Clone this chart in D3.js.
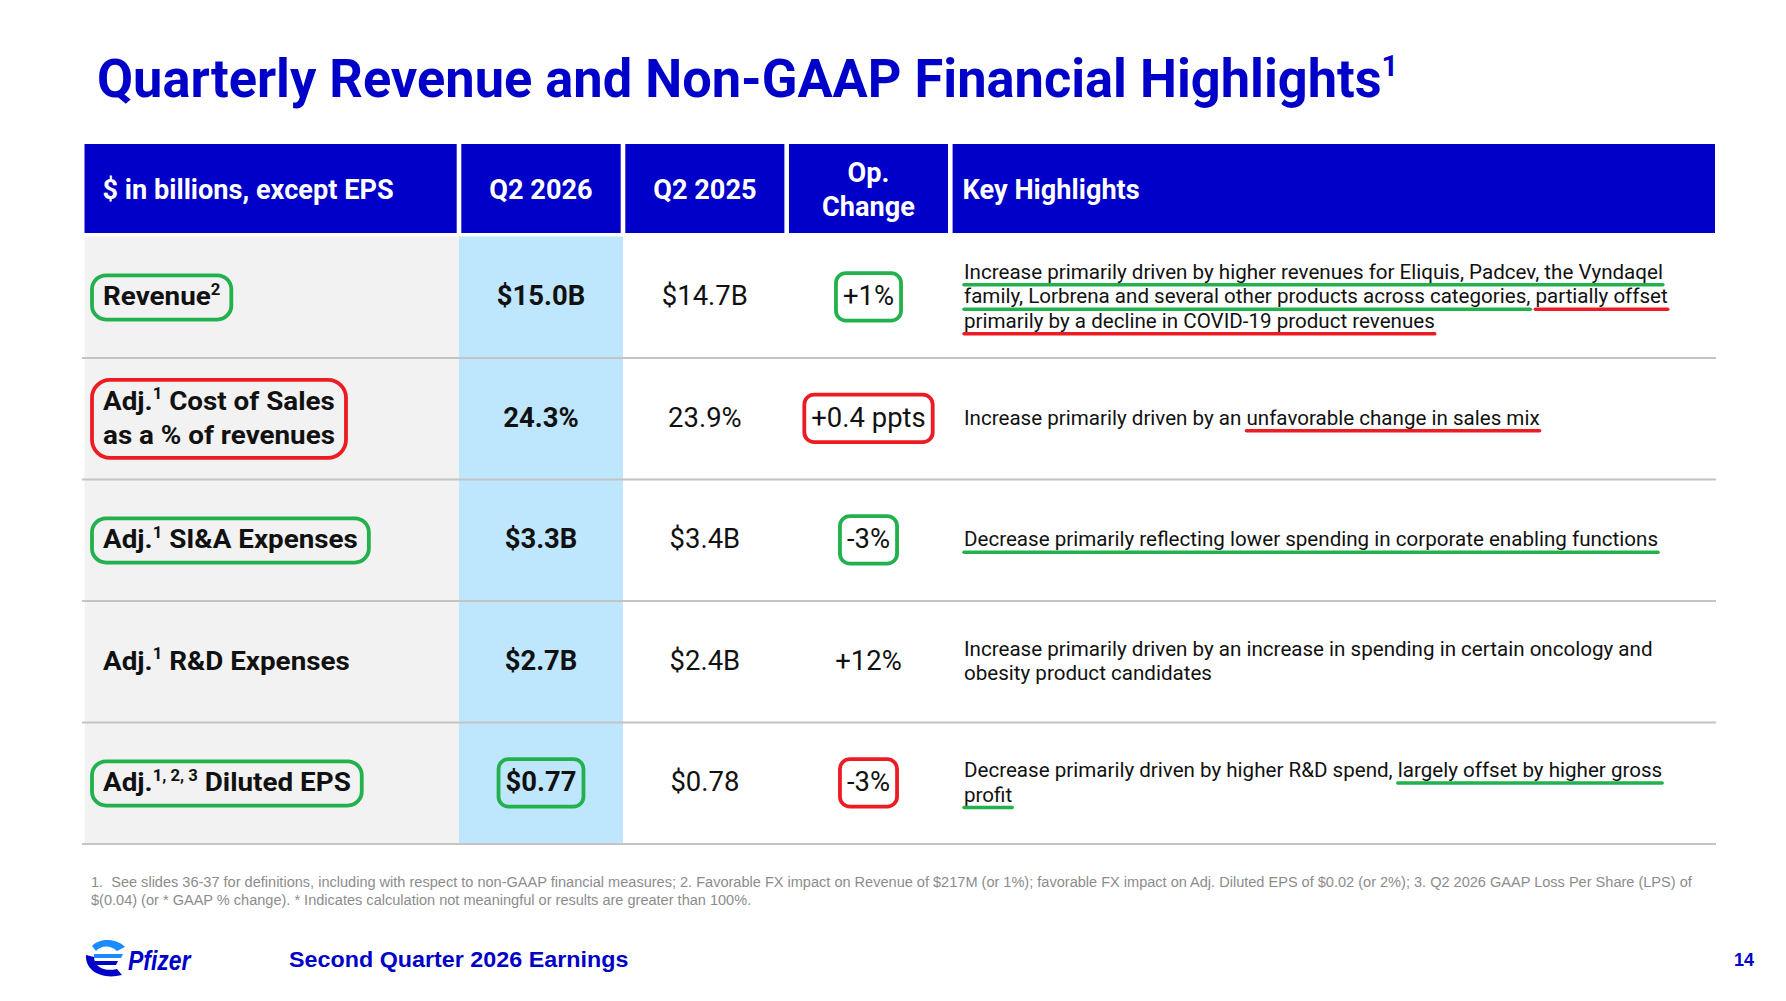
<!DOCTYPE html>
<html lang="en">
<head>
<meta charset="UTF-8">
<title>Quarterly Revenue and Non-GAAP Financial Highlights</title>
<script src="https://d3js.org/d3.v7.min.js"></script>
<style>
body { margin: 0; background: #fff; }
svg { display: block; }
text { white-space: pre; }
</style>
</head>
<body>
<svg id="chart" width="1786" height="1001"></svg>
<script>
// ---- data ----
const title = "Quarterly Revenue and Non-GAAP Financial Highlights^1";
const headers = ["$ in billions, except EPS", "Q2 2026", "Q2 2025", "Op.|Change", "Key Highlights"];
// "^" marks a superscript, "|" a line break
const metrics = [
    "Revenue^2",
    "Adj.^1 Cost of Sales|as a % of revenues",
    "Adj.^1 SI&A Expenses",
    "Adj.^1 R&D Expenses",
    "Adj.^1, 2, 3 Diluted EPS"
];
const q2_2026 = ["$15.0B", "24.3%", "$3.3B", "$2.7B", "$0.77"];
const q2_2025 = ["$14.7B", "23.9%", "$3.4B", "$2.4B", "$0.78"];
const opChange = ["+1%", "+0.4 ppts", "-3%", "+12%", "-3%"];
// [g:...] green underline, [r:...] red underline
const highlights = [
    "[g:Increase primarily driven by higher revenues for Eliquis, Padcev, the Vyndaqel]|[g:family, Lorbrena and several other products across categories,] [r:partially offset]|[r:primarily by a decline in COVID-19 product revenues]",
    "Increase primarily driven by an [r:unfavorable change in sales mix]",
    "[g:Decrease primarily reflecting lower spending in corporate enabling functions]",
    "Increase primarily driven by an increase in spending in certain oncology and|obesity product candidates",
    "Decrease primarily driven by higher R&D spend, [g:largely offset by higher gross]|[g:profit]"
];
// hand-drawn rings: g = green, r = red
const ringMetric = ["g", "r", "g", null, "g"];
const ringCurrent = [null, null, null, null, "g"];
const ringChange = ["g", "r", "g", null, "r"];
const footnotes = [
    "1.  See slides 36-37 for definitions, including with respect to non-GAAP financial measures; 2. Favorable FX impact on Revenue of $217M (or 1%); favorable FX impact on Adj. Diluted EPS of $0.02 (or 2%); 3. Q2 2026 GAAP Loss Per Share (LPS) of",
    "$(0.04) (or * GAAP % change). * Indicates calculation not meaningful or results are greater than 100%."
];
const footerText = "Second Quarter 2026 Earnings";
const pageNo = "14";

// ---- look ----
const BLUE = "#0000c8", GREEN = "#22b14c", RED = "#ed1c24", INK = "#111";
const FONT = "Roboto, 'Liberation Sans', Arial, sans-serif";
const ARIAL = "'Liberation Sans', Arial, sans-serif";
const ringColor = { g: GREEN, r: RED };

const svg = d3.select("#chart");
const colEdges = [84.5, 459, 623, 786.7, 950.3, 1715];
const headTop = 144, headBottom = 233;
const y = d3.scaleBand().domain(d3.range(metrics.length)).range([236.5, 844]);
const colMid = i => (colEdges[i] + colEdges[i + 1]) / 2;

// text squeezed/stretched horizontally to mimic the face used on the slide
function putText(parent, x, yy, str, o) {
    const wrap = parent.append("g");
    const inner = wrap.append("g")
        .attr("transform", `translate(${x},${yy}) scale(${o.sx || 1},1)`);
    const t = inner.append("text")
        .attr("font-family", o.family || FONT)
        .attr("font-size", o.size)
        .attr("font-weight", o.weight || 400)
        .attr("font-style", o.style || null)
        .attr("fill", o.fill || INK)
        .attr("text-anchor", o.anchor || "start");
    str.split(/(\^[\d, ]*\d)/).forEach(part => {
        if (!part) return;
        if (part[0] === "^") {
            t.append("tspan")
                .attr("font-size", o.size * (o.supScale || 0.6))
                .attr("baseline-shift", o.size * 0.4)
                .text(part.slice(1));
        } else {
            t.append("tspan").text(part);
        }
    });
    return wrap;
}

function ring(parent, x0, y0, x1, y1, color, rx) {
    parent.append("rect")
        .attr("x", x0).attr("y", y0)
        .attr("width", x1 - x0).attr("height", y1 - y0)
        .attr("rx", rx).attr("ry", rx)
        .attr("fill", "none")
        .attr("stroke", ringColor[color])
        .attr("stroke-width", 3.8);
}

function ringAround(parent, wrap, color, base, size, lines, padX, rx) {
    const b = wrap.node().getBBox();
    ring(parent, b.x - padX, base - size * 1.15, b.x + b.width + padX,
        base + (lines - 1) * size * 1.3 + size * 0.55, color, rx);
}

// ---- title ----
putText(svg, 97, 97, title, { size: 54, weight: 700, fill: BLUE, sx: 0.97, supScale: 0.55 });

// ---- header ----
const head = svg.append("g");
headers.forEach((h, i) => {
    const x0 = colEdges[i] + (i ? 2.3 : 0);
    const x1 = colEdges[i + 1] - (i < headers.length - 1 ? 2.3 : 0);
    head.append("rect")
        .attr("x", x0).attr("y", headTop)
        .attr("width", x1 - x0).attr("height", headBottom - headTop)
        .attr("fill", BLUE);
    const lines = h.split("|");
    const left = i === 0 || i === headers.length - 1;
    lines.forEach((ln, j) => {
        const base = (headTop + headBottom) / 2 + 10 + (j - (lines.length - 1) / 2) * 34;
        putText(head, left ? x0 + (i ? 10 : 18) : (x0 + x1) / 2, base, ln,
            { size: 28, weight: 700, fill: "#fff", sx: 0.97, anchor: left ? "start" : "middle" });
    });
});

// ---- body backgrounds ----
const body = svg.append("g");
body.append("rect")
    .attr("x", colEdges[0]).attr("y", y.range()[0])
    .attr("width", colEdges[1] - colEdges[0]).attr("height", y.range()[1] - y.range()[0])
    .attr("fill", "#f2f2f2");
body.append("rect")
    .attr("x", colEdges[1]).attr("y", y.range()[0])
    .attr("width", colEdges[2] - colEdges[1]).attr("height", y.range()[1] - y.range()[0])
    .attr("fill", "#bee6fd");
body.selectAll("line.sep")
    .data(d3.range(metrics.length))
    .join("line")
    .attr("class", "sep")
    .attr("x1", 82).attr("x2", 1716)
    .attr("y1", d => y(d) + y.bandwidth())
    .attr("y2", d => y(d) + y.bandwidth())
    .attr("stroke", "#c4c4c4")
    .attr("stroke-width", 2);

// ---- rows ----
const marks = svg.append("g");
metrics.forEach((m, i) => {
    const mid = y(i) + y.bandwidth() / 2;
    const base = mid + 8;

    // metric label
    const lines = m.split("|");
    const g = body.append("g");
    lines.forEach((ln, j) => {
        const b = mid + 8 + (j - (lines.length - 1) / 2) * 34;
        putText(g, 103, b, ln, { size: 26, weight: 700, sx: 1.07 });
    });
    if (ringMetric[i]) {
        ringAround(marks, g, ringMetric[i], mid + 8 - (lines.length - 1) * 17, 26,
            lines.length, 11, lines.length > 1 ? 18 : 14);
    }

    // values
    const cur = putText(body, colMid(1), base, q2_2026[i], { size: 28, weight: 700, sx: 0.98, anchor: "middle" });
    if (ringCurrent[i]) ringAround(marks, cur, ringCurrent[i], base, 28, 1, 7, 10);
    putText(body, colMid(2), base, q2_2025[i], { size: 28, sx: 0.98, anchor: "middle" });
    const chg = putText(body, colMid(3), base, opChange[i], { size: 28, sx: 0.98, anchor: "middle" });
    if (ringChange[i]) ringAround(marks, chg, ringChange[i], base, 28, 1, 7, 10);

    // key highlights with underlines
    const hl = highlights[i].split("|");
    hl.forEach((ln, j) => {
        const b = mid + 6 + (j - (hl.length - 1) / 2) * 24.5;
        const sx = 0.98;
        const inner = body.append("g").attr("transform", `translate(964,${b}) scale(${sx},1)`);
        const t = inner.append("text")
            .attr("font-family", FONT).attr("font-size", 21).attr("fill", INK);
        const segs = [];
        ln.replace(/\[([gr]):([^\]]*)\]|([^\[]+)/g, (all, c, u, plain) => {
            segs.push({ c: c || null, s: c ? u : plain });
            return all;
        });
        let at = 0;
        segs.forEach(s => {
            const w = t.append("tspan").text(s.s).node().getComputedTextLength();
            if (s.c) {
                marks.append("line")
                    .attr("x1", 964 + at * sx).attr("x2", 964 + (at + w) * sx)
                    .attr("y1", b + 6).attr("y2", b + 6)
                    .attr("stroke", ringColor[s.c])
                    .attr("stroke-width", 3.5)
                    .attr("stroke-linecap", "round");
            }
            at += w;
        });
    });
});

// ---- footnotes ----
footnotes.forEach((f, j) => {
    putText(svg, 91, 887 + j * 18, f, { family: ARIAL, size: 14, fill: "#8c8c8c", sx: 1.04 });
});

// ---- footer ----
const logo = svg.append("g").attr("transform", "translate(86,938)");
logo.append("path")
    .attr("d", "M6,8 C14,0 30,0 39,9 L31,13 C25,7 15,7 10,13 Z")
    .attr("fill", "#1a8cff");
logo.append("path")
    .attr("d", "M8,16 L37,16 L35,20 L8,20 Z")
    .attr("fill", "#1a8cff");
logo.append("path")
    .attr("d", "M9,23 L32,23 L30,27 L9,27 Z")
    .attr("fill", BLUE);
logo.append("path")
    .attr("d", "M0,17 C-1,33 16,42 36,37 L31,31 C19,34 8,29 8,19 Z")
    .attr("fill", BLUE);
putText(svg, 128, 970, "Pfizer", { family: ARIAL, size: 27, weight: 700, style: "italic", fill: BLUE, sx: 0.85 });

putText(svg, 289, 967, footerText, { family: ARIAL, size: 22, weight: 700, fill: BLUE, sx: 1.06 });
putText(svg, 1754, 966, pageNo, { family: ARIAL, size: 18, weight: 700, fill: BLUE, anchor: "end" });
</script>
</body>
</html>
